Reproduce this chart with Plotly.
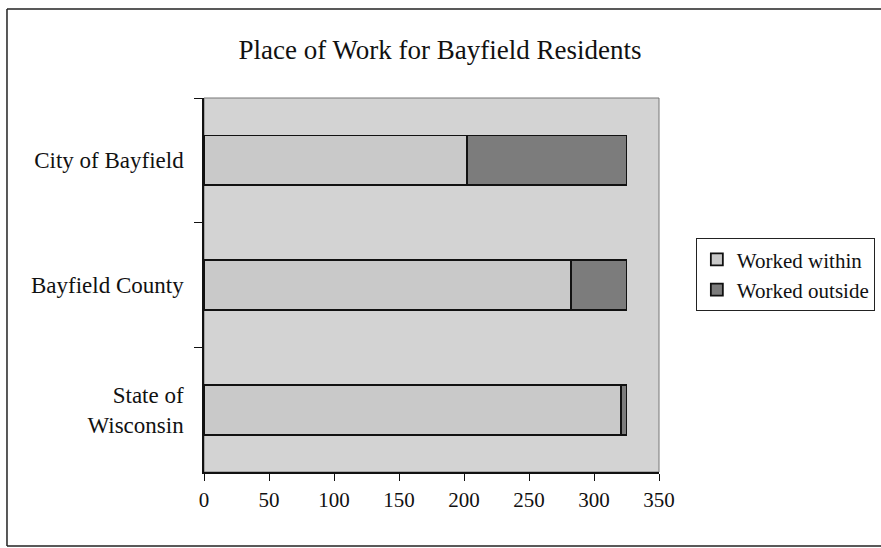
"""Place of work chart for Bayfield residents."""

import plotly.graph_objects as go

# Data
places = ['City of Bayfield', 'Bayfield County', 'State of<br>Wisconsin']
worked_within = [202, 282, 321]
worked_outside = [123, 43, 4]
x_ticks = [0, 50, 100, 150, 200, 250, 300, 350]

serif = 'Liberation Serif'

fig = go.Figure()

# Stacked horizontal bars
fig.add_trace(go.Bar(
    y=places, x=worked_within, orientation='h', name='Worked within',
    marker=dict(color='#c9c9c9', line=dict(color='#111111', width=1.8))
))
fig.add_trace(go.Bar(
    y=places, x=worked_outside, orientation='h', name='Worked outside',
    marker=dict(color='#7c7c7c', line=dict(color='#111111', width=1.8))
))

# Outer chart frame: top, left and bottom edges (right edge is cut off)
frame = dict(color='#222222', width=1.5)
frame_lines = [
    dict(type='line', xref='paper', yref='paper', x0=-0.433, x1=1.7,
         y0=1.238, y1=1.238, line=frame),
    dict(type='line', xref='paper', yref='paper', x0=-0.433, x1=-0.433,
         y0=-0.198, y1=1.238, line=frame),
    dict(type='line', xref='paper', yref='paper', x0=-0.433, x1=1.7,
         y0=-0.198, y1=-0.198, line=frame),
]

# Update layout
fig.update_layout(
    width=881, height=548,
    margin=dict(l=204, r=222, t=98, b=76, autoexpand=False),
    barmode='stack',
    bargap=0.6,
    paper_bgcolor='white',
    plot_bgcolor='#d3d3d3',
    font=dict(family=serif, size=20, color='#111111'),
    title=dict(
        text='Place of Work for Bayfield Residents',
        x=440 / 881, xanchor='center', y=1 - 50 / 548, yanchor='middle',
        font=dict(family=serif, size=27, color='#111111')
    ),
    legend=dict(
        x=1.081, xanchor='left', y=0.625, yanchor='top',
        traceorder='normal',
        bordercolor='#222222', borderwidth=1,
        font=dict(family=serif, size=21, color='#111111'),
        bgcolor='white'
    ),
    showlegend=True,
    shapes=[
        # plot area frame
        dict(type='rect', xref='paper', yref='paper', x0=0, x1=1, y0=0, y1=1,
             line=dict(color='#777777', width=1), layer='below'),
    ] + frame_lines
)

fig.update_xaxes(
    range=[0, 350], tickvals=x_ticks, ticks='outside', ticklen=7,
    tickcolor='#111111', showline=True, linecolor='#111111', linewidth=1.5,
    showgrid=False, zeroline=False, ticklabelstandoff=1,
    tickfont=dict(family=serif, size=21)
)
fig.update_yaxes(
    categoryorder='array', categoryarray=places, autorange='reversed',
    ticks='outside', tickson='boundaries', ticklen=8, tickcolor='#111111',
    showline=True, linecolor='#111111', linewidth=1.5, showgrid=False,
    ticklabelstandoff=14, tickfont=dict(family=serif, size=23)
)

# drop the default page margin so the figure fills the window
fig.write_html('out.html', config={'displayModeBar': False},
               post_script='document.body.style.margin = "0";')
